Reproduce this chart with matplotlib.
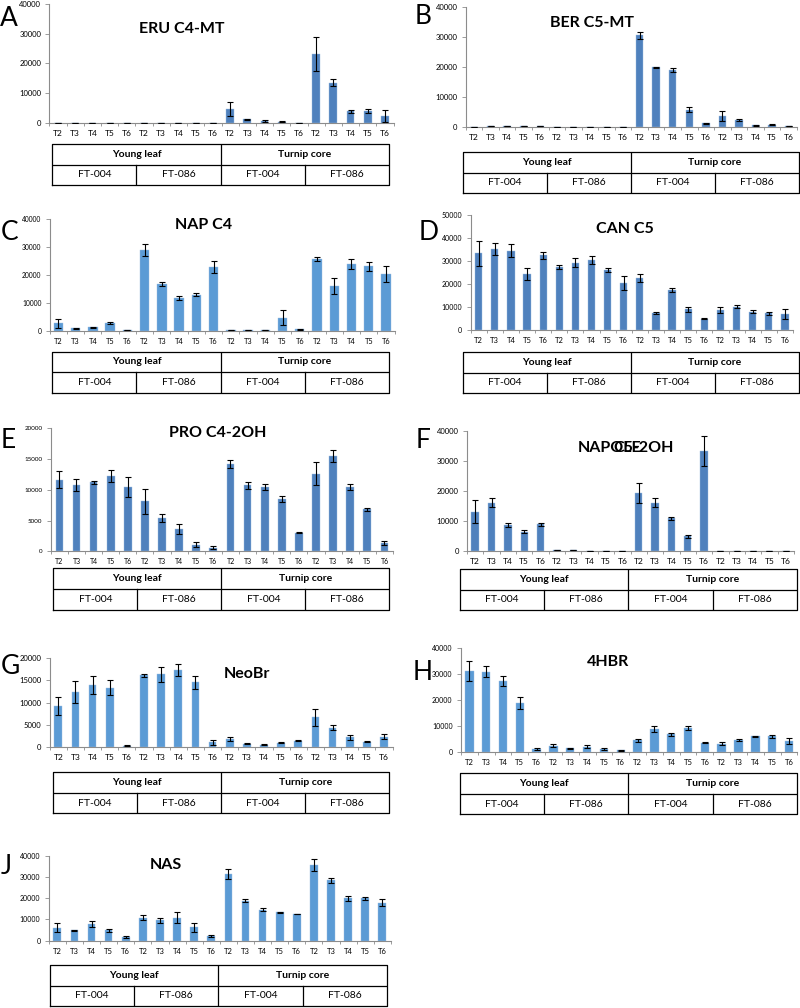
import matplotlib
matplotlib.use("Agg")
import matplotlib.pyplot as plt
import numpy as np

plt.rcParams['font.family'] = ['Lato', 'DejaVu Sans']

W, H = 800, 1008
ticks = ["T2", "T3", "T4", "T5", "T6"] * 4
tissues = ["Young leaf", "Turnip core"]
lines = ["FT-004", "FT-086", "FT-004", "FT-086"]

DARK = "#4F81BD"
LIGHT = "#5B9BD5"

# ---- data (values, error) ----
eru_val = [0, 0, 0, 0, 0, 0, 0, 0, 0, 0, 4600, 1200, 600, 400, 0, 23200, 13400, 3800, 4000, 2200]
eru_err = [0, 0, 0, 0, 0, 0, 0, 0, 0, 0, 2500, 150, 200, 150, 0, 5800, 1200, 400, 700, 2000]

ber_val = [0, 100, 100, 100, 100, 0, 0, 0, 0, 0, 30400, 19800, 18900, 5700, 1200, 3700, 2300, 500, 700, 100]
ber_err = [0, 0, 0, 0, 0, 0, 0, 0, 0, 0, 1300, 200, 700, 900, 200, 1700, 300, 150, 200, 0]

nap_val = [2700, 900, 1200, 2700, 300, 29000, 16800, 11700, 12900, 22800, 200, 200, 200, 4700, 500, 25800, 16000, 24000, 23100, 20400]
nap_err = [1600, 200, 200, 300, 100, 2200, 800, 800, 500, 2100, 50, 50, 50, 2800, 200, 700, 2800, 1900, 1700, 2800]

can_val = [33400, 35300, 34500, 24500, 32500, 27300, 29300, 30600, 26300, 20500, 22600, 7400, 17400, 9000, 5000, 8600, 10200, 8000, 7200, 7000]
can_err = [5300, 2800, 2800, 2600, 1600, 900, 2000, 1800, 800, 3200, 1700, 300, 800, 1000, 200, 1400, 800, 600, 600, 2000]

pro_val = [11650, 10800, 11200, 12300, 10500, 8100, 5400, 3600, 1100, 600, 14200, 10700, 10400, 8500, 3000, 12600, 15500, 10400, 6800, 1400]
pro_err = [1400, 1000, 200, 1000, 1600, 2100, 700, 800, 400, 300, 600, 500, 500, 500, 100, 1900, 900, 500, 300, 300]

napol_val = [13000, 16000, 8700, 6300, 8800, 200, 200, 50, 50, 50, 19300, 16000, 10800, 4800, 33300, 50, 50, 50, 50, 50]
napol_err = [3800, 1500, 700, 500, 400, 0, 0, 0, 0, 0, 3400, 1500, 400, 500, 5000, 0, 0, 0, 0, 0]

neo_val = [9300, 12300, 13900, 13300, 400, 16100, 16300, 17300, 14500, 1100, 1800, 800, 600, 1000, 1500, 6700, 4400, 2200, 1200, 2400]
neo_err = [2000, 2500, 2100, 1700, 100, 300, 1700, 1300, 1500, 500, 500, 100, 100, 100, 100, 1900, 500, 500, 100, 500]

hbr_val = [31200, 31000, 27300, 19000, 900, 2300, 1400, 1900, 1100, 500, 4500, 8700, 6700, 9200, 3500, 3100, 4600, 6000, 5900, 4100]
hbr_err = [3700, 2000, 2000, 2300, 400, 500, 200, 500, 500, 100, 600, 1100, 500, 900, 200, 600, 500, 200, 500, 1200]

nas_val = [6000, 5000, 7800, 4900, 1800, 10800, 9600, 10800, 6400, 2400, 31300, 18800, 14600, 13300, 12600, 35500, 28500, 20000, 20000, 17900]
nas_err = [2100, 200, 1500, 700, 300, 1100, 1100, 2500, 2100, 500, 2300, 700, 600, 400, 200, 2800, 1200, 1200, 700, 1700]

fig = plt.figure(figsize=(W / 100, H / 100), dpi=100)

TITLE_FS = 11.5


def rect(l, t, r, b):
    return [l / W, 1 - b / H, (r - l) / W, (b - t) / H]


def panel(letter, letter_xy, title, title_xy, vals, errs, color, ymax, ystep,
          box, tbox, bw=0.45, tfs=5.5):
    l, t, r, b = box
    ax = fig.add_axes(rect(l, t, r, b))
    x = np.arange(len(vals))
    ax.bar(x, vals, width=bw, color=color, edgecolor="#9DBCE0", linewidth=0.3, zorder=2)
    ax.errorbar(x, vals, yerr=errs, fmt="none", ecolor="black", elinewidth=0.8,
                capsize=2.2, capthick=0.8, zorder=3)
    ax.set_xlim(-0.5, len(vals) - 0.5)
    ax.set_ylim(0, ymax)
    ax.set_yticks(np.arange(0, ymax + 1, ystep))
    ax.set_xticks(x)
    ax.set_xticklabels(ticks)
    for s in ["top", "right"]:
        ax.spines[s].set_visible(False)
    for s in ["left", "bottom"]:
        ax.spines[s].set_color("#8C8C8C")
        ax.spines[s].set_linewidth(0.8)
    ax.tick_params(axis="y", labelsize=tfs, length=3, width=0.6, color="#8C8C8C", pad=3)
    ax.tick_params(axis="x", labelsize=tfs + 0.5, length=0, pad=5)
    ax.set_xticks(np.arange(-0.5, len(vals), 1), minor=True)
    ax.tick_params(axis="x", which="minor", length=2.5, width=0.6, color="#8C8C8C")
    # title and letter
    if title:
        fig.text(title_xy[0] / W, 1 - title_xy[1] / H, title, ha="center", va="center",
                 fontsize=TITLE_FS, fontweight="bold")
    fig.text(letter_xy[0] / W, 1 - letter_xy[1] / H, letter, ha="left", va="center",
             fontsize=19)
    # table
    tl, tr, ty0, ty1, ty2 = tbox
    tax = fig.add_axes(rect(tl, ty0, tr, ty2))
    tax.set_xlim(0, 4)
    tax.set_ylim(0, 2)
    tax.axis("off")
    lw = 0.9
    tax.plot([0, 4, 4, 0, 0], [0, 0, 2, 2, 0], color="black", lw=lw, clip_on=False)
    tax.plot([0, 4], [1, 1], color="black", lw=lw)
    tax.plot([2, 2], [0, 2], color="black", lw=lw)
    tax.plot([1, 1], [0, 1], color="black", lw=lw)
    tax.plot([3, 3], [0, 1], color="black", lw=lw)
    for i, tname in enumerate(tissues):
        tax.text(1 + 2 * i, 1.5, tname, ha="center", va="center", fontsize=7.5,
                 fontweight="bold")
    for i, ln in enumerate(lines):
        tax.text(0.5 + i, 0.5, ln, ha="center", va="center", fontsize=7.5)
    return ax


panel("A", (0, 18), "ERU C4-MT", (182, 29), eru_val, eru_err, DARK, 40000, 10000,
      (49.4, 4, 393.6, 122.7), (52.3, 389, 144, 165, 185.3))
panel("B", (415, 16), "BER C5-MT", (592, 23), ber_val, ber_err, DARK, 40000, 10000,
      (465.7, 6.7, 797, 126.7), (462.7, 799, 151.7, 172.7, 193.3))
panel("C", (1, 232), "NAP C4", (204, 225), nap_val, nap_err, LIGHT, 40000, 10000,
      (49.7, 219.3, 394.6, 330.7), (52.3, 389, 351.7, 372.3, 392.7), bw=0.55, tfs=4.8)
panel("D", (419, 232), "CAN C5", (625, 229), can_val, can_err, DARK, 50000, 10000,
      (470.6, 215.3, 793, 330), (462.7, 799, 351.7, 372.7, 393.3), tfs=5)
panel("E", (1, 441), "PRO C4-2OH", (218, 433), pro_val, pro_err, DARK, 20000, 5000,
      (50.8, 428.3, 393, 551.3), (53.3, 389.3, 568, 589.3, 610), tfs=4.5)
panel("F", (416, 440), "", (626, 448), napol_val, napol_err, DARK, 40000, 10000,
      (467, 430.7, 794, 550.7), (460, 796.7, 569.3, 590, 610))
fig.text(578 / W, 1 - 448 / H, "NAPOLE", ha="left", va="center", fontsize=TITLE_FS,
         fontweight="bold")
fig.text(674 / W, 1 - 448 / H, "C5-2OH", ha="right", va="center", fontsize=TITLE_FS,
         fontweight="bold")
panel("G", (1, 666), "NeoBr", (247, 674), neo_val, neo_err, LIGHT, 20000, 5000,
      (49.7, 657.7, 392.6, 747.3), (52.7, 389.3, 772.3, 793.3, 813.3))
panel("H", (413, 673), "4HBR", (608, 662), hbr_val, hbr_err, LIGHT, 40000, 10000,
      (460.9, 648.3, 797.4, 751.7), (460, 796.7, 773.3, 794.3, 814.3), bw=0.5, tfs=5)
panel("J", (1, 867), "NAS", (166, 865), nas_val, nas_err, LIGHT, 40000, 10000,
      (48.75, 855.7, 390.9, 940.7), (50, 386.7, 965, 985.7, 1006), tfs=5)

fig.savefig("out.png", dpi=100)
